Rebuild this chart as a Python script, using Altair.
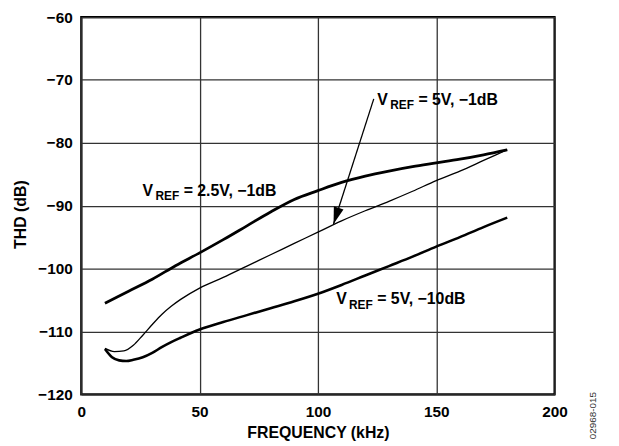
import altair as alt
import pandas as pd

# ---- data ----
freq_25 = [10, 20, 30, 40, 50, 60, 70, 80, 90, 100, 110, 120, 130, 140, 150, 160, 170, 180]
thd_25 = [-105.5, -103.6, -101.7, -99.5, -97.5, -95.4, -93.2, -91.0, -89.0, -87.6,
          -86.3, -85.3, -84.5, -83.8, -83.2, -82.6, -81.9, -81.1]

freq_5_1 = [10, 14, 18, 22, 26, 30, 34, 38, 42, 50, 60, 70, 80, 90, 100, 110, 120,
            130, 140, 150, 160, 170, 180]
thd_5_1 = [-112.7, -113.2, -113.1, -112.2, -110.6, -108.9, -107.3, -106.0, -104.9,
           -103.1, -101.4, -99.6, -97.8, -96.0, -94.2, -92.4, -90.8, -89.3, -87.7,
           -86.0, -84.5, -82.8, -81.1]

freq_5_10 = [10, 13, 16, 19, 22, 26, 30, 34, 38, 42, 50, 60, 70, 80, 90, 100, 110,
             120, 130, 140, 150, 160, 170, 180]
thd_5_10 = [-112.8, -114.1, -114.6, -114.7, -114.5, -114.1, -113.4, -112.5, -111.7,
            -111.0, -109.7, -108.5, -107.4, -106.3, -105.2, -104.0, -102.6, -101.1,
            -99.6, -98.1, -96.5, -95.0, -93.4, -91.9]

x_ticks = [0, 50, 100, 150, 200]
y_ticks = [-120, -110, -100, -90, -80, -70, -60]

label_x = [25.9, 125.1, 107.7]
label_y = [-88.4, -74.0, -105.7]
label_rest = ["= 2.5V, \u22121dB", "= 5V, \u22121dB", "= 5V, \u221210dB"]

arrow_from = (123.6, -73.0)
arrow_to = (106.6, -92.9)

FONT = "Liberation Sans"

x_scale = alt.Scale(domain=[0, 200], nice=False, zero=False)
y_scale = alt.Scale(domain=[-120, -60], nice=False, zero=False)

x_axis = alt.Axis(values=x_ticks, title="FREQUENCY (kHz)", grid=True,
                  domain=False, ticks=False, tickSize=0,
                  labelFont=FONT, labelFontSize=15.5, labelFontWeight="bold",
                  labelColor="black", labelBaseline="alphabetic",
                  labelPadding=22, labelFlush=False,
                  titleFont=FONT, titleFontSize=16, titleFontWeight="bold",
                  titleColor="black", titleBaseline="alphabetic",
                  titleX=239, titleY=43.6,
                  gridColor="#333333", gridWidth=1.3)
y_axis = alt.Axis(values=y_ticks, title="THD (dB)", grid=True,
                  domain=False, ticks=False, tickSize=0,
                  labelFont=FONT, labelFontSize=15.5, labelFontWeight="bold",
                  labelColor="black", labelPadding=9, labelFlush=False,
                  titleFont=FONT, titleFontSize=16, titleFontWeight="bold",
                  titleColor="black", titleX=-53, titleY=199,
                  gridColor="#333333", gridWidth=1.3)


def X(field):
    return alt.X(field, scale=x_scale, axis=x_axis)


def Y(field):
    return alt.Y(field, scale=y_scale, axis=y_axis)


def line_layer(f, t, width):
    df = pd.DataFrame({"freq": f, "thd": t})
    return alt.Chart(df).mark_line(color="black", strokeWidth=width,
                                   interpolate="monotone").encode(x=X("freq:Q"), y=Y("thd:Q"))


l1 = line_layer(freq_25, thd_25, 2.8)
l2 = line_layer(freq_5_1, thd_5_1, 1.3)
l3 = line_layer(freq_5_10, thd_5_10, 2.6)

labels = pd.DataFrame({"x": label_x, "y": label_y, "rest": label_rest})

t_v = alt.Chart(labels).mark_text(font=FONT, fontSize=16, fontWeight="bold",
                                  align="left", baseline="alphabetic", color="black",
                                  text="V").encode(x=X("x:Q"), y=Y("y:Q"))
t_ref = alt.Chart(labels).mark_text(font=FONT, fontSize=12, fontWeight="bold",
                                    align="left", baseline="alphabetic", color="black",
                                    dx=13, dy=4.3, text="REF").encode(x=X("x:Q"), y=Y("y:Q"))
t_rest = alt.Chart(labels).mark_text(font=FONT, fontSize=16, fontWeight="bold",
                                     align="left", baseline="alphabetic", color="black",
                                     dx=41.5).encode(x=X("x:Q"), y=Y("y:Q"), text="rest:N")

arrow_df = pd.DataFrame({"x": [arrow_from[0]], "y": [arrow_from[1]],
                         "x2": [arrow_to[0]], "y2": [arrow_to[1]]})
arrow_line = alt.Chart(arrow_df).mark_rule(color="black", strokeWidth=1.3).encode(
    x=X("x:Q"), y=Y("y:Q"), x2="x2:Q", y2="y2:Q")
arrow_head = alt.Chart(arrow_df).mark_point(
    shape="M0,0 L-0.3,-1 L0.3,-1 Z", filled=True, size=1156, angle=17.8,
    color="black", opacity=1, strokeWidth=0).encode(x=X("x2:Q"), y=Y("y2:Q"))

wm_df = pd.DataFrame({"x": [216.3], "y": [-123.4], "t": ["02968-015"]})
watermark = alt.Chart(wm_df).mark_text(font=FONT, fontSize=10, angle=270, align="center",
                                       baseline="middle", color="#333333").encode(
    x=X("x:Q"), y=Y("y:Q"), text="t:N")

chart = alt.layer(l1, l2, l3, t_v, t_ref, t_rest, arrow_line, arrow_head, watermark).properties(
    width=478, height=381,
    padding={"left": 74, "top": 7, "right": 57, "bottom": 50},
    autosize=alt.AutoSizeParams(type="none"),
    background="white",
).configure_view(stroke="black", strokeWidth=2.2)

chart.save("out.html", embed_options={"renderer": "svg", "actions": False})
